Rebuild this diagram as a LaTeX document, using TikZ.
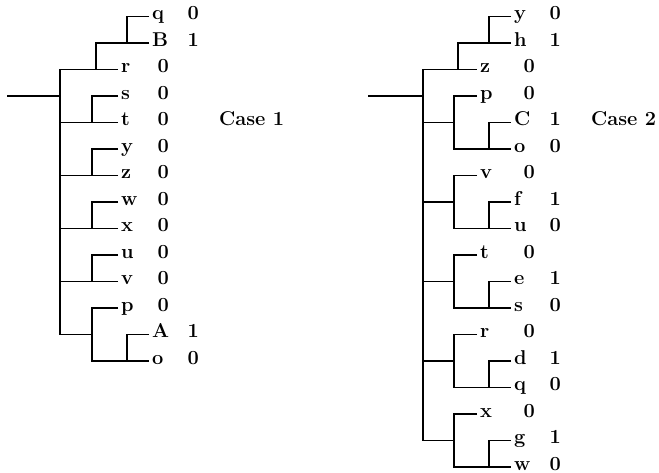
\documentclass[tikz,border=0pt]{standalone}
\usepackage{fontspec}
\begin{document}
\begin{tikzpicture}[x=1pt,y=-1pt,line width=1.3pt,
  lab/.style={anchor=west,inner xsep=2.5pt,inner ysep=0pt,text height=0.64em,text depth=0pt,
    font=\fontsize{20}{22}\selectfont\bfseries}]
\useasboundingbox (0,0) rectangle (659,473);
% ---------------- Case 1 ----------------
\node[lab] (aq) at (149,16.5) {q}; \node[lab] (aq0) at (184.5,16.5) {0};
\node[lab] (aB) at (149,43) {B};   \node[lab] (aB1) at (184.5,43) {1};
\foreach \l/\yy in {r/69.5,s/96,t/122.5,y/149,z/175.5,w/202,x/228.5,u/255,v/281.5,p/308}{
  \node[lab] (a\l) at (118,\yy) {\l};
  \node[lab] (a\l0) at (154.5,\yy) {0};
}
\node[lab] (aA) at (149,334.5) {A}; \node[lab] (aA1) at (184.5,334.5) {1};
\node[lab] (ao) at (149,361) {o};   \node[lab] (ao0) at (184.5,361) {0};
\node[lab] (case1) at (216,122.5) {Case 1};

\coordinate (aroot) at (7,96);
\coordinate (am) at (60,96);
\coordinate (amt) at (60,69.5);
\coordinate (amb) at (60,334.5);
\coordinate (ax1) at (96,0);
\coordinate (ax2) at (92,0);
\coordinate (ax3) at (127,0);
\draw (aroot) -- (am);
\draw (amt) -- (amb);
\draw (amt) -- (ar.west);
\draw (aB.west) -| (ar.west -| ax1);
\draw (aq.west) -| (aB.west -| ax3);
\foreach \u/\l in {s/t,y/z,w/x,u/v}{
  \draw (a\l.west) -- (a\l.west -| amt);
  \draw (a\u.west) -| (a\l.west -| ax2);
}
\draw (amb) -- (amb -| ax2);
\draw (ap.west) -| (ao.west -| ax2) -- (ao.west);
\draw (aA.west) -| (ao.west -| ax3);

% ---------------- Case 2 ----------------
\node[lab] (by) at (511,16.5) {y}; \node[lab] (by0) at (546.5,16.5) {0};
\node[lab] (bh) at (511,43) {h};   \node[lab] (bh1) at (546.5,43) {1};
\node[lab] (bz) at (477,69.5) {z}; \node[lab] (bz0) at (520.5,69.5) {0};
\node[lab] (case2) at (588,122.5) {Case 2};

\coordinate (broot) at (368,96);
\coordinate (bm) at (423,96);
\coordinate (bmt) at (423,69.5);
\coordinate (bmb) at (423,440.5);
\coordinate (bx1) at (458,0);
\coordinate (bx2) at (489,0);
\coordinate (bx3) at (454,0);
\draw (broot) -- (bm);
\draw (bmt) -- (bmb);
\draw (bmt) -- (bz.west);
\draw (bh.west) -| (bz.west -| bx1);
\draw (by.west) -| (bh.west -| bx2);
\foreach \s/\u/\d/\ya/\yb/\yc in {p/C/o/96/122.5/149, v/f/u/175.5/202/228.5,
    t/e/s/255/281.5/308, r/d/q/334.5/361/387.5, x/g/w/414/440.5/467}{
  \node[lab] (b\s) at (477,\ya) {\s}; \node[lab] (b\s0) at (520.5,\ya) {0};
  \node[lab] (b\u) at (511,\yb) {\u}; \node[lab] (b\u1) at (546.5,\yb) {1};
  \node[lab] (b\d) at (511,\yc) {\d}; \node[lab] (b\d0) at (546.5,\yc) {0};
  \draw (b\u.west -| bmt) -- (b\u.west -| bx3);
  \draw (b\s.west) -| (b\d.west -| bx3) -- (b\d.west);
  \draw (b\u.west) -| (b\d.west -| bx2);
}
\end{tikzpicture}
\end{document}
